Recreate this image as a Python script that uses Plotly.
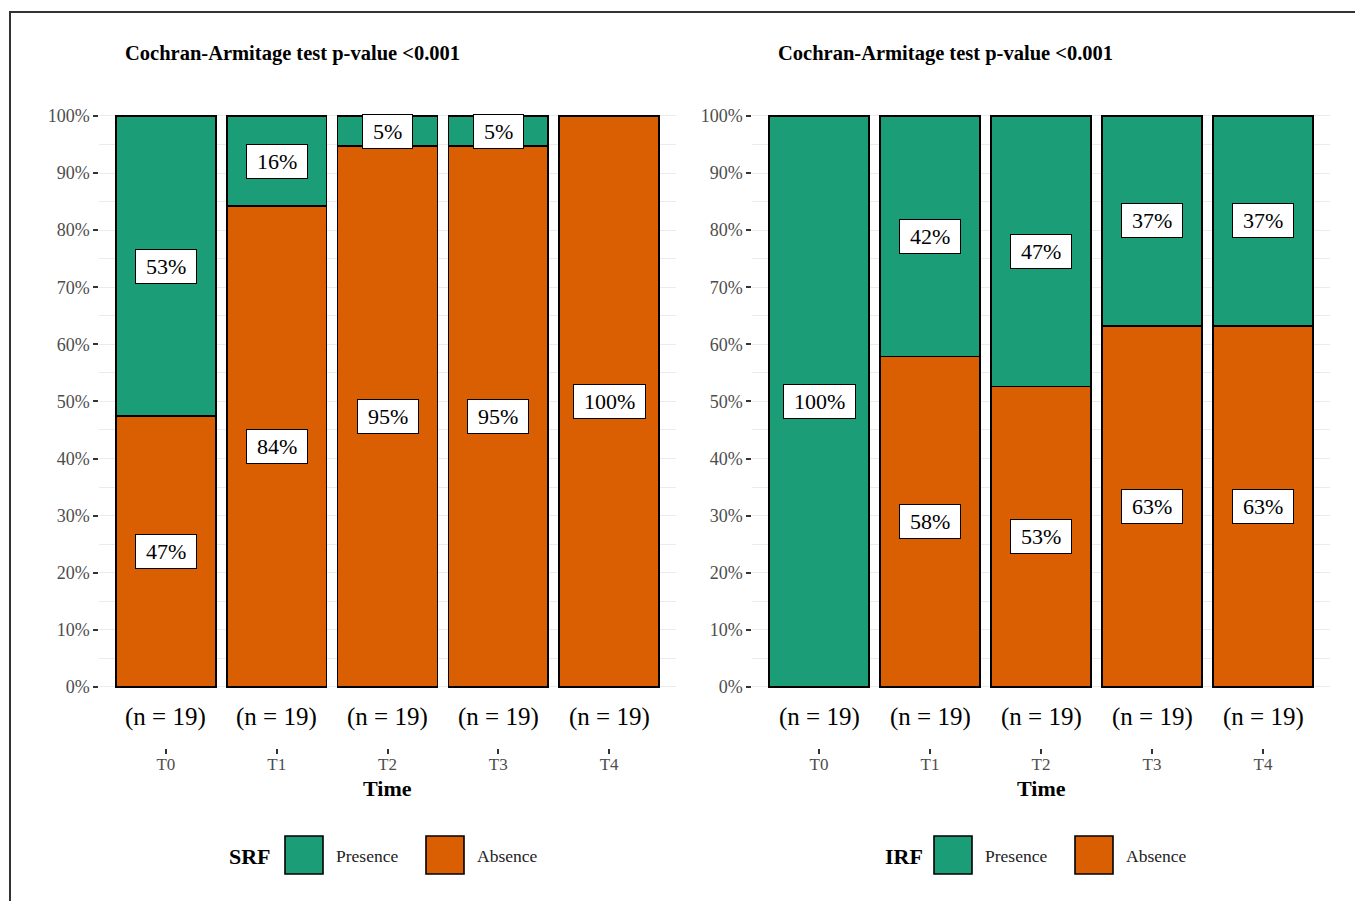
import plotly.graph_objects as go

# ---------------- data ----------------
time_points = ["T0", "T1", "T2", "T3", "T4"]
n_labels = ["(n = 19)", "(n = 19)", "(n = 19)", "(n = 19)", "(n = 19)"]

srf_presence = [0.526, 0.158, 0.053, 0.053, 0.0]
srf_absence = [0.474, 0.842, 0.947, 0.947, 1.0]

irf_presence = [1.0, 0.421, 0.474, 0.368, 0.368]
irf_absence = [0.0, 0.579, 0.526, 0.632, 0.632]

panel_titles = ["Cochran-Armitage test p-value <0.001", "Cochran-Armitage test p-value <0.001"]
legend_titles = ["SRF", "IRF"]
series_names = ["Presence", "Absence"]

y_tick_vals = [0.0, 0.1, 0.2, 0.3, 0.4, 0.5, 0.6, 0.7, 0.8, 0.9, 1.0]
y_tick_text = ["0%", "10%", "20%", "30%", "40%", "50%", "60%", "70%", "80%", "90%", "100%"]
y_minor_vals = [0.05, 0.15, 0.25, 0.35, 0.45, 0.55, 0.65, 0.75, 0.85, 0.95]

# ---------------- style ----------------
W, H = 1355, 901
GREEN = "#1b9e77"
ORANGE = "#d95f02"
SERIF = "Liberation Serif"
GRID = "#ebebeb"


def px(x):
    return x / W


def py(y):
    return 1 - y / H


fig = go.Figure()

panels = [
    dict(pres=srf_presence, absn=srf_absence, xa="x", ya="y", xdom=(99.4, 675.6)),
    dict(pres=irf_presence, absn=irf_absence, xa="x2", ya="y2", xdom=(752.4, 1329.6)),
]

annotations = []
shapes = []


def text_width(s, size):
    w = 0
    for ch in s:
        if ch == "%":
            w += 0.833
        else:
            w += 0.5
    return w * size


for i, p in enumerate(panels):
    fig.add_trace(go.Bar(
        x=time_points, y=p["absn"], name=series_names[1], xaxis=p["xa"], yaxis=p["ya"],
        marker=dict(color=ORANGE, line=dict(color="black", width=1.6)),
        width=0.9, showlegend=False, hoverinfo="skip",
    ))
    fig.add_trace(go.Bar(
        x=time_points, y=p["pres"], name=series_names[0], xaxis=p["xa"], yaxis=p["ya"],
        marker=dict(color=GREEN, line=dict(color="black", width=1.6)),
        width=0.9, showlegend=False, hoverinfo="skip",
    ))
    # value labels
    for t, a, pr in zip(time_points, p["absn"], p["pres"]):
        for val, mid in ((a, a / 2), (pr, a + pr / 2)):
            if val <= 0:
                continue
            txt = f"{round(val * 100)}%"
            annotations.append(dict(
                x=t, y=mid, xref=p["xa"], yref=p["ya"], text=txt, showarrow=False,
                font=dict(family=SERIF, size=22, color="black"),
                bgcolor="white", bordercolor="black", borderwidth=1, borderpad=4,
                width=text_width(txt, 22) + 12,
            ))
    # n labels
    for t, nl in zip(time_points, n_labels):
        annotations.append(dict(
            x=t, y=-0.053, xref=p["xa"], yref=p["ya"], text=nl, showarrow=False,
            font=dict(family=SERIF, size=25, color="black"),
        ))
    x0, x1 = p["xdom"]
    cx = (x0 + x1) / 2
    # panel title
    annotations.append(dict(
        x=px(x0 + 24), y=py(53), xref="paper", yref="paper", xanchor="left", yanchor="middle",
        text=f"<b>{panel_titles[i]}</b>", showarrow=False,
        font=dict(family=SERIF, size=20.5, color="black"),
    ))
    # axis title
    annotations.append(dict(
        x=px(cx), y=py(788), xref="paper", yref="paper", xanchor="center", yanchor="middle",
        text="<b>Time</b>", showarrow=False,
        font=dict(family=SERIF, size=22, color="black"),
    ))
    # custom legend
    lx = cx - 161 if i == 0 else cx - 158
    annotations.append(dict(
        x=px(lx), y=py(856), xref="paper", yref="paper", xanchor="left", yanchor="middle",
        text=f"<b>{legend_titles[i]}</b>", showarrow=False,
        font=dict(family=SERIF, size=22, color="black"),
    ))
    k1 = 285 if i == 0 else 934
    for j, (col, name) in enumerate(((GREEN, series_names[0]), (ORANGE, series_names[1]))):
        kx = k1 + j * 141
        shapes.append(dict(
            type="rect", xref="paper", yref="paper",
            x0=px(kx), x1=px(kx + 38), y0=py(874), y1=py(836),
            fillcolor=col, line=dict(color="black", width=1.6),
        ))
        annotations.append(dict(
            x=px(kx + 49), y=py(856), xref="paper", yref="paper", xanchor="left", yanchor="middle",
            text=name, showarrow=False,
            font=dict(family=SERIF, size=17.5, color="#222"),
        ))

# outer frame
shapes.append(dict(
    type="rect", xref="paper", yref="paper",
    x0=px(10), y0=py(12), x1=1.02, y1=-0.02,
    line=dict(color="#333", width=2), fillcolor="rgba(0,0,0,0)", layer="above",
))

ydom = [py(748), py(104.5)]
yaxis_common = dict(
    range=[-0.107, 1.02], domain=ydom,
    tickvals=y_tick_vals, ticktext=y_tick_text,
    ticks="outside", ticklen=5, tickwidth=1.5, tickcolor="#333",
    tickfont=dict(family=SERIF, size=18, color="#4d4d4d"),
    showgrid=True, gridcolor=GRID, gridwidth=1.2,
    minor=dict(tickvals=y_minor_vals, showgrid=True, gridcolor=GRID, gridwidth=1, ticks=""),
    zeroline=False, showline=False, fixedrange=True,
)
xaxis_common = dict(
    type="category", range=[-0.6, 4.6],
    ticks="outside", ticklen=5, tickwidth=1.5, tickcolor="#333",
    tickfont=dict(family=SERIF, size=17, color="#4d4d4d"),
    ticklabelstandoff=-4,
    showgrid=False, zeroline=False, showline=False, fixedrange=True,
)

fig.update_layout(
    width=W, height=H,
    margin=dict(l=0, r=0, t=0, b=0),
    paper_bgcolor="white", plot_bgcolor="white",
    barmode="stack", showlegend=False,
    xaxis=dict(xaxis_common, domain=[px(99.4), px(675.6)], anchor="y"),
    yaxis=dict(yaxis_common, anchor="x"),
    xaxis2=dict(xaxis_common, domain=[px(752.4), px(1329.6)], anchor="y2"),
    yaxis2=dict(yaxis_common, anchor="x2"),
    annotations=annotations,
    shapes=shapes,
)

fig.write_html("out.html")
